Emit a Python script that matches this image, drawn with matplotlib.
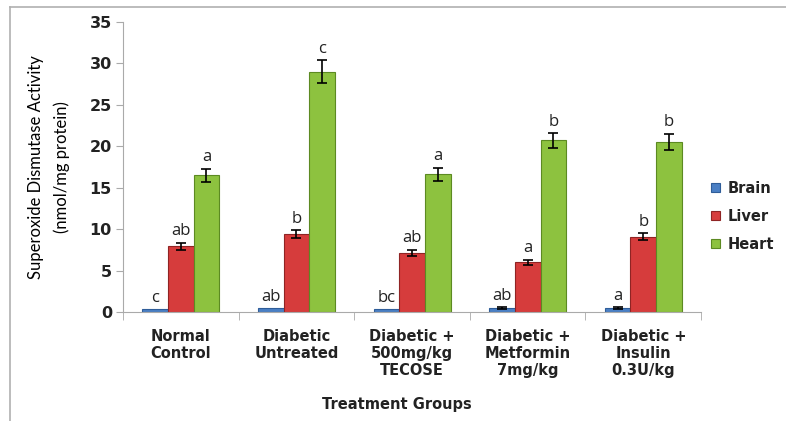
import numpy as np
import matplotlib.pyplot as plt

# Datos
groups = ['Normal\nControl', 'Diabetic\nUntreated', 'Diabetic +\n500mg/kg\nTECOSE',
          'Diabetic +\nMetformin\n7mg/kg', 'Diabetic +\nInsulin\n0.3U/kg']
brain = [0.3, 0.45, 0.3, 0.5, 0.45]
liver = [7.9, 9.4, 7.1, 6.0, 9.1]
heart = [16.5, 29.0, 16.6, 20.7, 20.5]
brain_err = [0.0, 0.0, 0.0, 0.1, 0.1]
liver_err = [0.45, 0.5, 0.4, 0.3, 0.4]
heart_err = [0.8, 1.4, 0.8, 0.9, 1.0]
brain_lab = ['c', 'ab', 'bc', 'ab', 'a']
liver_lab = ['ab', 'b', 'ab', 'a', 'b']
heart_lab = ['a', 'c', 'a', 'b', 'b']

plt.rcParams['font.family'] = ['Open Sans', 'DejaVu Sans']
bold_font = ['DejaVu Sans']

fig = plt.figure(figsize=(7.86, 4.21), dpi=100)
ax = fig.add_axes([0.1565, 0.259, 0.7355, 0.689])

x = np.arange(len(groups))
w = 0.222
series = [('Brain', brain, brain_err, brain_lab, '#4a7fc4', '#2f5d99'),
          ('Liver', liver, liver_err, liver_lab, '#d63c3c', '#8f2424'),
          ('Heart', heart, heart_err, heart_lab, '#8dc23f', '#5c8a22')]

for i, (name, vals, errs, labs, col, ecol) in enumerate(series):
    pos = x + (i - 1) * w
    ax.bar(pos, vals, w, color=col, edgecolor=ecol, linewidth=0.8, label=name, zorder=2)
    for p, v, e in zip(pos, vals, errs):
        if e > 0:
            ax.errorbar(p, v, yerr=e, fmt='none', ecolor='black', elinewidth=1.2,
                        capsize=3.5, capthick=1.2, zorder=3)
    for p, v, e, t in zip(pos, vals, errs, labs):
        ax.text(p, v + e + 0.4, t, ha='center', va='bottom', fontsize=12, color='#222222')

ax.set_xlim(-0.5, len(groups) - 0.5)
ax.set_ylim(0, 35)
ax.set_yticks(range(0, 36, 5))
ax.set_yticklabels([str(v) for v in range(0, 36, 5)], fontsize=11.5, fontweight='bold',
                   family=bold_font, color='#222222')
ax.set_xticks(x)
ax.set_xticklabels(groups, fontsize=10.5, fontweight='bold', linespacing=1.2,
                   family=bold_font, color='#222222')
ax.set_xticks(np.arange(-0.5, len(groups)), minor=True)
ax.tick_params(axis='x', which='major', length=0, pad=12)
ax.tick_params(axis='x', which='minor', length=6, color='#aaaaaa')
ax.tick_params(axis='y', length=5, color='#aaaaaa', pad=3)

for s in ['top', 'right']:
    ax.spines[s].set_visible(False)
for s in ['left', 'bottom']:
    ax.spines[s].set_color('#aaaaaa')

ax.set_ylabel('Superoxide Dismutase Activity\n(nmol/mg protein)', fontsize=12,
              family=['Liberation Sans Narrow', 'Lato', 'DejaVu Sans'], labelpad=14,
              linespacing=1.7)
fig.text(397 / 786, 1 - 405 / 421, 'Treatment Groups', ha='center', va='center',
         fontsize=10.5, fontweight='bold', family=bold_font, color='#222222')

leg = ax.legend(loc='center left', bbox_to_anchor=(0.995, 0.33), frameon=False,
                handlelength=0.6, handleheight=0.6, labelspacing=0.9, handletextpad=0.5,
                prop={'weight': 'bold', 'size': 10.5, 'family': bold_font})
for t in leg.get_texts():
    t.set_color('#222222')

# marco gris alrededor de la figura
fig.add_artist(plt.Line2D([10 / 786, 10 / 786], [0, 1 - 7 / 421], color='#b0b0b0',
                          lw=1.2, transform=fig.transFigure))
fig.add_artist(plt.Line2D([10 / 786, 1], [1 - 7 / 421, 1 - 7 / 421], color='#b0b0b0',
                          lw=1.2, transform=fig.transFigure))

fig.savefig('out.png', dpi=100)
